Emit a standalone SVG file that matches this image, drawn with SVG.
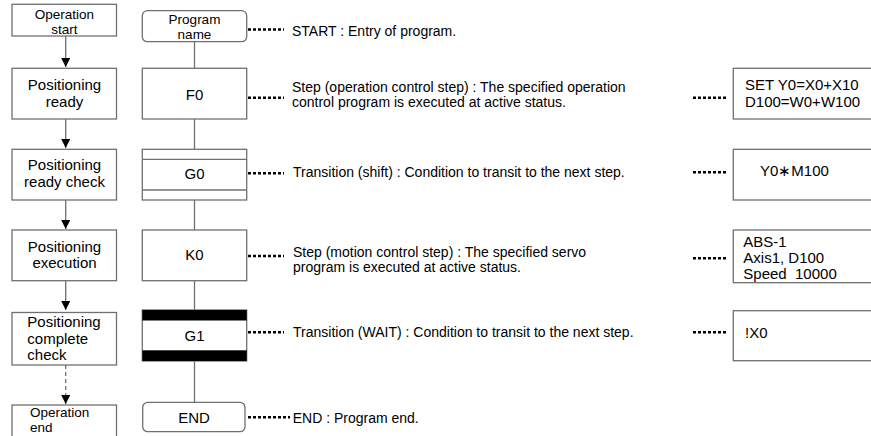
<svg xmlns="http://www.w3.org/2000/svg" width="871" height="436" viewBox="0 0 871 436">
<defs>
<style>
.box{fill:#fff;stroke:#707070;stroke-width:1.3}
.t{font-family:"Liberation Sans",Arial,sans-serif;font-size:15px;fill:#000}
.s{font-size:13.5px}
.c{text-anchor:middle}
.d{font-family:"Liberation Sans",Arial,sans-serif;font-size:14px;fill:#000}
.ln{stroke:#707070;stroke-width:1.3;fill:none}
.dot{stroke:#000;stroke-width:2.5;stroke-dasharray:3 2;fill:none}
.bar{fill:#000}
</style>
<marker id="ah" viewBox="0 0 10 10" refX="10" refY="5" markerWidth="9" markerHeight="9" markerUnits="userSpaceOnUse" orient="auto">
<path d="M0,0 L10,5 L0,10 Z" fill="#000"/>
</marker>
</defs>
<rect width="871" height="436" fill="#fff"/>

<g id="connectors">
<line class="ln" x1="65.7" y1="36" x2="65.7" y2="67" marker-end="url(#ah)"/>
<line class="ln" x1="65.7" y1="119" x2="65.7" y2="148" marker-end="url(#ah)"/>
<line class="ln" x1="65.7" y1="200" x2="65.7" y2="229" marker-end="url(#ah)"/>
<line class="ln" x1="65.7" y1="281" x2="65.7" y2="310" marker-end="url(#ah)"/>
<line class="ln" x1="65.7" y1="365" x2="65.7" y2="404" stroke-dasharray="4 3" marker-end="url(#ah)"/>
<line class="ln" x1="194.5" y1="42" x2="194.5" y2="68"/>
<line class="ln" x1="194.5" y1="119" x2="194.5" y2="149"/>
<line class="ln" x1="194.5" y1="200" x2="194.5" y2="230"/>
<line class="ln" x1="194.5" y1="281" x2="194.5" y2="310"/>
<line class="ln" x1="194.5" y1="361" x2="194.5" y2="402"/>
<line class="dot" x1="248" y1="29.5" x2="284" y2="29.5"/>
<line class="dot" x1="248" y1="97.7" x2="284" y2="97.7"/>
<line class="dot" x1="248" y1="173.3" x2="284" y2="173.3"/>
<line class="dot" x1="248" y1="256" x2="284" y2="256"/>
<line class="dot" x1="248" y1="332.3" x2="284" y2="332.3"/>
<line class="dot" x1="248" y1="417.3" x2="290" y2="417.3"/>
<line class="dot" x1="693" y1="97.7" x2="728" y2="97.7"/>
<line class="dot" x1="693" y1="172.3" x2="728" y2="172.3"/>
<line class="dot" x1="693" y1="258.3" x2="728" y2="258.3"/>
<line class="dot" x1="693" y1="332.3" x2="728" y2="332.3"/>
</g>

<g id="op-start">
<rect class="box" x="12" y="4.3" width="104.5" height="31.7"/>
<text class="t s c" x="64.5" y="18.5">Operation</text>
<text class="t s c" x="64.5" y="33.5">start</text>
</g>
<g id="pos-ready">
<rect class="box" x="12" y="68.3" width="104.5" height="50.7"/>
<text class="t c" x="64.5" y="90">Positioning</text>
<text class="t c" x="64.5" y="106.5">ready</text>
</g>
<g id="pos-ready-check">
<rect class="box" x="12" y="149.3" width="104.5" height="50.7"/>
<text class="t c" x="64.5" y="170">Positioning</text>
<text class="t c" x="64.5" y="186.5">ready check</text>
</g>
<g id="pos-exec">
<rect class="box" x="12" y="230" width="104.5" height="50.7"/>
<text class="t c" x="64.5" y="251.5">Positioning</text>
<text class="t c" x="64.5" y="268">execution</text>
</g>
<g id="pos-complete-check">
<rect class="box" x="12" y="312.5" width="104.5" height="52.5"/>
<text class="t" x="27.3" y="327">Positioning</text>
<text class="t" x="27.3" y="343.5">complete</text>
<text class="t" x="27.3" y="360">check</text>
</g>
<g id="op-end">
<rect class="box" x="12" y="405" width="104.5" height="40"/>
<text class="t s" x="30" y="417">Operation</text>
<text class="t s" x="30" y="432">end</text>
</g>

<g id="program-name">
<rect class="box" x="142.3" y="10.7" width="104.4" height="31" rx="5"/>
<text class="t s c" x="194.5" y="24">Program</text>
<text class="t s c" x="194.5" y="39">name</text>
</g>
<g id="F0">
<rect class="box" x="142.3" y="68.3" width="104.4" height="50.7"/>
<text class="t c" x="194.5" y="99.5">F0</text>
</g>
<g id="G0">
<rect class="box" x="142.3" y="149.3" width="104.4" height="50.7"/>
<line class="ln" x1="142.3" y1="159.3" x2="246.7" y2="159.3"/>
<line class="ln" x1="142.3" y1="190" x2="246.7" y2="190"/>
<text class="t c" x="194.5" y="179.3">G0</text>
</g>
<g id="K0">
<rect class="box" x="142.3" y="230" width="104.4" height="50.7"/>
<text class="t c" x="194.5" y="260">K0</text>
</g>
<g id="G1">
<rect class="box" x="142.3" y="310" width="104.4" height="51"/>
<rect class="bar" x="142.3" y="310" width="104.4" height="10.5"/>
<rect class="bar" x="142.3" y="350.3" width="104.4" height="10.7"/>
<text class="t c" x="194.5" y="340.5">G1</text>
</g>
<g id="END">
<rect class="box" x="142.7" y="402.3" width="102.3" height="29.4" rx="5"/>
<text class="t c" x="194" y="422.7">END</text>
</g>

<g id="desc">
<text class="d" x="292" y="35.5">START : Entry of program.</text>
<text class="d" x="292" y="91.7">Step (operation control step) : The specified operation</text>
<text class="d" x="292" y="106.5">control program is executed at active status.</text>
<text class="d" x="293" y="176.7">Transition (shift) : Condition to transit to the next step.</text>
<text class="d" x="293" y="256.5">Step (motion control step) : The specified servo</text>
<text class="d" x="293" y="271.5">program is executed at active status.</text>
<text class="d" x="293" y="337">Transition (WAIT) : Condition to transit to the next step.</text>
<text class="d" x="292.7" y="422.7">END : Program end.</text>
</g>

<g id="prog-F0">
<rect class="box" x="733.3" y="68.3" width="150" height="50.7"/>
<text class="t" x="745" y="89.5">SET Y0=X0+X10</text>
<text class="t" x="745" y="106.5">D100=W0+W100</text>
</g>
<g id="prog-G0">
<rect class="box" x="733.3" y="149.3" width="150" height="50.7"/>
<text class="t" x="760" y="176">Y0∗M100</text>
</g>
<g id="prog-K0">
<rect class="box" x="733.3" y="230" width="150" height="52.7"/>
<text class="t" x="743.3" y="246.7">ABS-1</text>
<text class="t" x="743.3" y="263">Axis1, D100</text>
<text class="t" x="743.3" y="279.3" xml:space="preserve">Speed&#160; 10000</text>
</g>
<g id="prog-G1">
<rect class="box" x="733.3" y="310.7" width="150" height="50"/>
<text class="t" x="745" y="338">!X0</text>
</g>
</svg>
